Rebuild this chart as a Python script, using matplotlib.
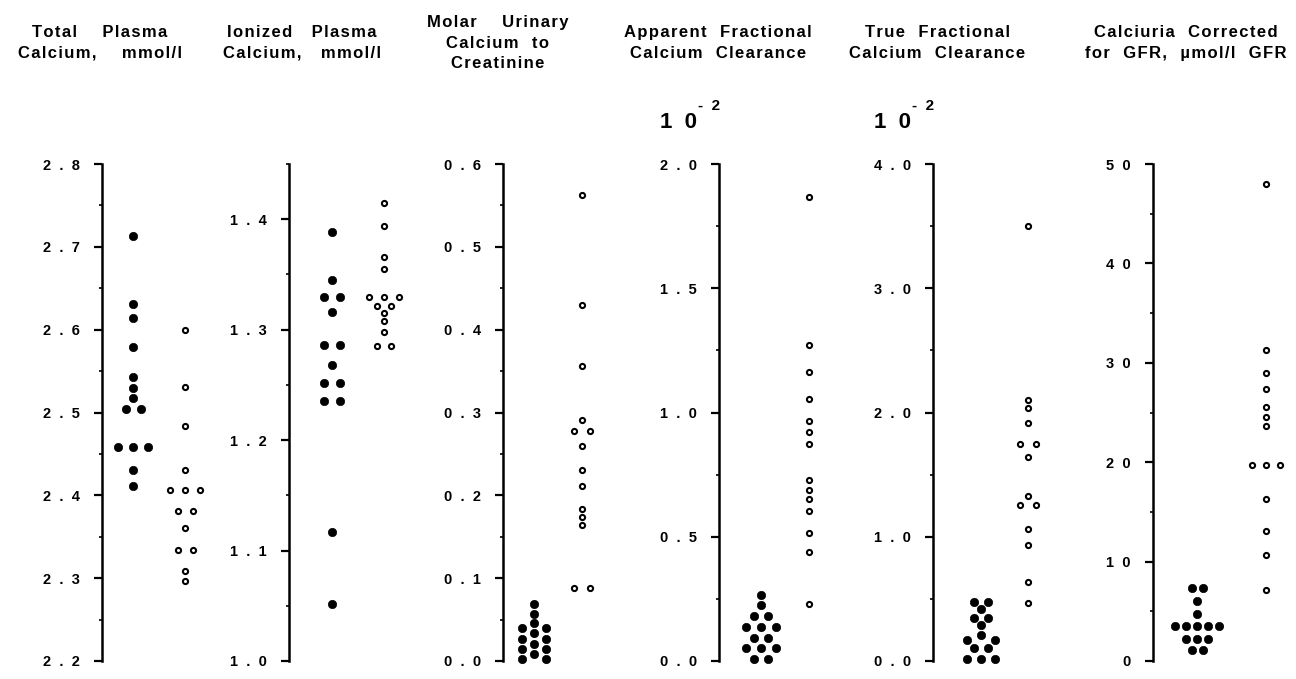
import numpy as np
import matplotlib
matplotlib.use('Agg')
import matplotlib.pyplot as plt
from matplotlib.ticker import MultipleLocator

W, H = 1296, 679

plt.rcParams['font.family'] = ['Liberation Sans', 'DejaVu Sans']
plt.rcParams['font.weight'] = 'bold'

# panel titles
titles = [
    'Total    Plasma\nCalcium,    mmol/l',
    'Ionized   Plasma\nCalcium,   mmol/l',
    'Molar    Urinary\nCalcium  to\nCreatinine',
    'Apparent  Fractional\nCalcium  Clearance',
    'True  Fractional\nCalcium  Clearance',
    'Calciuria  Corrected\nfor  GFR,  \u00b5mol/l  GFR',
]

# y axis ranges and ticks
ylims = [(2.2, 2.8), (1.0, 1.45), (0.0, 0.6), (0.0, 2.0), (0.0, 4.0), (0, 50)]
major_ticks = [
    [2.2, 2.3, 2.4, 2.5, 2.6, 2.7, 2.8],
    [1.0, 1.1, 1.2, 1.3, 1.4],
    [0.0, 0.1, 0.2, 0.3, 0.4, 0.5, 0.6],
    [0.0, 0.5, 1.0, 1.5, 2.0],
    [0.0, 1.0, 2.0, 3.0, 4.0],
    [0, 10, 20, 30, 40, 50],
]
tick_labels = [
    ['2.2', '2.3', '2.4', '2.5', '2.6', '2.7', '2.8'],
    ['1.0', '1.1', '1.2', '1.3', '1.4'],
    ['0.0', '0.1', '0.2', '0.3', '0.4', '0.5', '0.6'],
    ['0.0', '0.5', '1.0', '1.5', '2.0'],
    ['0.0', '1.0', '2.0', '3.0', '4.0'],
    ['0', '10', '20', '30', '40', '50'],
]
minor_steps = [0.05, 0.05, 0.05, 0.25, 0.5, 5]
scaled = [False, False, False, True, True, False]  # "10^-2" note

# data, filled dots and open dots for each panel
total_filled = [2.713, 2.631, 2.614, 2.579, 2.543, 2.530, 2.518, 2.504, 2.504,
                2.458, 2.458, 2.458, 2.430, 2.411]
total_open = [2.599, 2.531, 2.484, 2.431, 2.407, 2.407, 2.407, 2.381, 2.381,
              2.360, 2.334, 2.334, 2.309, 2.296]
ionized_filled = [1.388, 1.345, 1.330, 1.330, 1.316, 1.286, 1.286, 1.268,
                  1.252, 1.252, 1.235, 1.235, 1.117, 1.052]
ionized_open = [1.415, 1.394, 1.366, 1.355, 1.330, 1.330, 1.330, 1.321,
                1.321, 1.315, 1.308, 1.298, 1.285, 1.285]
ratio_filled = [0.069, 0.057, 0.046, 0.040, 0.040, 0.034, 0.027, 0.027,
                0.021, 0.015, 0.015, 0.009, 0.003, 0.003]
ratio_open = [0.563, 0.430, 0.356, 0.291, 0.278, 0.278, 0.259, 0.230,
              0.211, 0.183, 0.174, 0.164, 0.088, 0.088]
apparent_filled = [0.266, 0.227, 0.180, 0.180, 0.137, 0.137, 0.137, 0.094,
                   0.094, 0.052, 0.052, 0.052, 0.008, 0.008]
apparent_open = [1.867, 1.273, 1.161, 1.055, 0.964, 0.922, 0.875, 0.730,
                 0.688, 0.652, 0.602, 0.516, 0.438, 0.230]
true_filled = [0.473, 0.473, 0.417, 0.348, 0.348, 0.292, 0.207, 0.169,
               0.169, 0.107, 0.107, 0.019, 0.019, 0.019]
true_open = [3.498, 2.104, 2.034, 1.915, 1.749, 1.749, 1.640, 1.326,
             1.257, 1.257, 1.063, 0.937, 0.636, 0.464]
gfr_filled = [7.3, 7.3, 6.0, 4.7, 3.5, 3.5, 3.5, 3.5, 3.5, 2.2, 2.2, 2.2,
              1.1, 1.1]
gfr_open = [48.0, 31.3, 29.0, 27.35, 25.6, 24.5, 23.6, 19.7, 19.7, 19.7,
            16.3, 13.1, 10.7, 7.15]

filled = [total_filled, ionized_filled, ratio_filled, apparent_filled,
          true_filled, gfr_filled]
opened = [total_open, ionized_open, ratio_open, apparent_open, true_open,
          gfr_open]

# layout (pixels)
spine_x = [102, 289, 503, 719, 933, 1153]
title_x = [100, 302, 498, 718, 937, 1186]
cx_filled = [31, 43, 31, 42, 48, 44]
cx_open = [83, 95, 79, 90, 95, 113]
step_filled = [15, 16, 12, 14.7, 14, 11]
step_open = [15, 14.8, 16.5, 15, 15.5, 14.3]
AX_TOP, AX_BOT, AX_W = 164, 661, 140
AX_H = AX_BOT - AX_TOP


def track(s, gap='\u200a'):
    # loose letter spacing like the old typeset figure
    return '\n'.join(gap.join(line) for line in s.split('\n'))


def swarm_offsets(vals, step, ppu, thresh=9.5):
    # rows of equal values are centred; rows get spread when they hit dots above
    vals = np.asarray(vals, float)
    offs = np.zeros(len(vals))
    placed = []
    for v in sorted(set(vals), reverse=True):
        idx = np.where(vals == v)[0]
        n = len(idx)
        base = (np.arange(n) - (n - 1) / 2) * step
        cand = base
        if n > 1:
            for spread in (1, 2, 3):
                cand = base * spread
                ok = all(np.hypot(c - px, (v - pv) * ppu) >= thresh
                         for c in cand for px, pv in placed)
                if ok:
                    break
        offs[idx] = cand
        placed += [(c, v) for c in cand]
    return offs


fig = plt.figure(figsize=(W / 100, H / 100), dpi=100)

for i in range(6):
    x0 = spine_x[i]
    ax = fig.add_axes([x0 / W, 1 - AX_BOT / H, AX_W / W, AX_H / H])
    ax.set_xlim(0, AX_W)
    ax.set_ylim(*ylims[i])
    ppu = AX_H / (ylims[i][1] - ylims[i][0])

    f = np.asarray(filled[i])
    o = np.asarray(opened[i])
    ax.plot(cx_filled[i] + swarm_offsets(f, step_filled[i], ppu), f, 'o',
            ms=6.0, color='black', mec='black', mew=0.5, ls='none',
            clip_on=False)
    ax.plot(cx_open[i] + swarm_offsets(o, step_open[i], ppu), o, 'o',
            ms=3.7, mfc='white', mec='black', mew=1.5, ls='none',
            clip_on=False)

    for s in ['top', 'right', 'bottom']:
        ax.spines[s].set_visible(False)
    ax.spines['left'].set_linewidth(1.8)
    ax.set_xticks([])
    ax.set_yticks(major_ticks[i],
                  labels=['  '.join(t) for t in tick_labels[i]])
    ax.yaxis.set_minor_locator(MultipleLocator(minor_steps[i]))
    ax.tick_params(axis='y', which='major', direction='out', length=6,
                   width=1.6, pad=10, labelsize=10.5)
    ax.tick_params(axis='y', which='minor', direction='out', length=2.5,
                   width=1.2)
    ax.patch.set_visible(False)

    fig.text(title_x[i] / W, 1 - 43 / H, track(titles[i]), ha='center',
             va='center', fontsize=12, linespacing=1.45)

    if scaled[i]:
        fig.text((x0 - 22) / W, 1 - 128 / H, '1  0', ha='right',
                 va='baseline', fontsize=16)
        fig.text((x0 - 21) / W, 1 - 110 / H, '-  2', ha='left',
                 va='baseline', fontsize=11)

fig.savefig('out.png', dpi=100)
